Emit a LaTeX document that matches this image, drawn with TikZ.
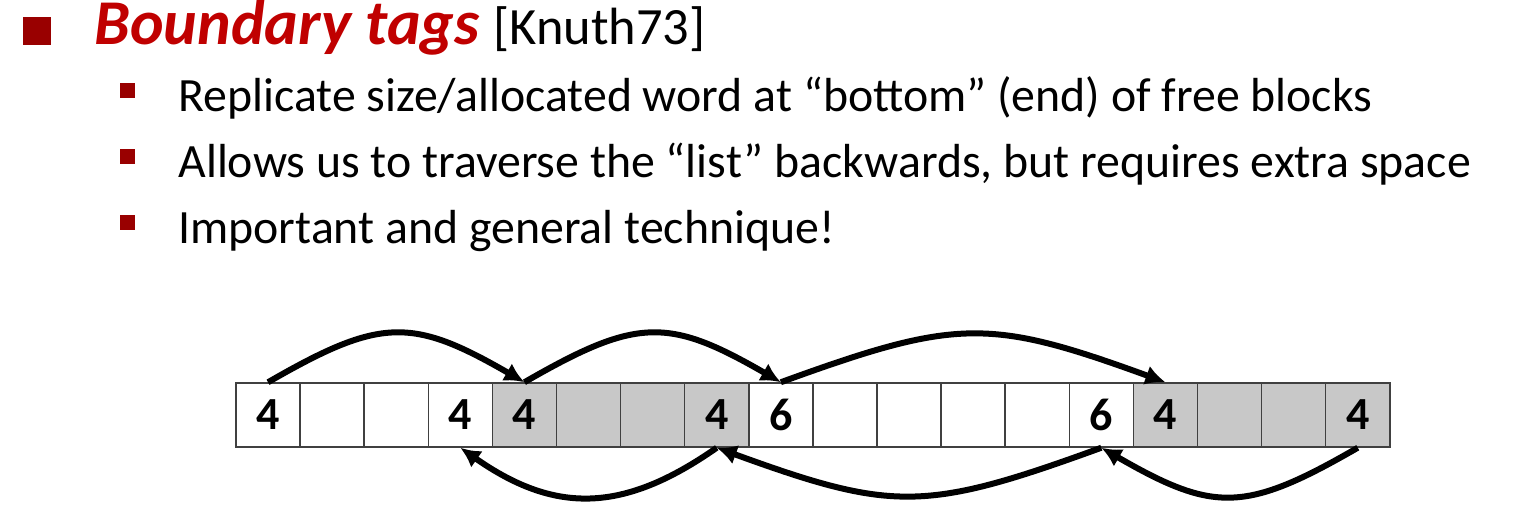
\documentclass[tikz,border=0pt]{standalone}
\usepackage{fontspec}
\setmainfont{Carlito}
\usetikzlibrary{arrows.meta}
\definecolor{tagred}{HTML}{C00000}
\definecolor{bulletred}{HTML}{990000}
\definecolor{usedgray}{HTML}{C8C8C8}
\definecolor{gridline}{HTML}{404040}

\tikzset{
  cellbox/.style={draw=gridline, line width=0.75pt, minimum width=32.05pt,
    minimum height=32pt, inner sep=0pt, font=\fontsize{23}{23}\selectfont\bfseries},
  link/.style={line width=3pt, -{Latex[length=10pt,width=10pt]}},
  textline/.style={anchor=base west, inner sep=0pt, font=\fontsize{23.9}{28}\selectfont}
}

\begin{document}
\begin{tikzpicture}[x=0.5pt, y=0.5pt]
      \useasboundingbox (0,0) rectangle (1522,528);

      % Heading with its bullet
      \fill[bulletred] (23,483) rectangle (51,511);
      \node[anchor=base west, inner sep=0pt] (title) at (94,483)
        {\textcolor{tagred}{\fontsize{31.9}{36}\selectfont\bfseries\itshape Boundary tags}\hspace{7pt}%
         \fontsize{26.2}{30}\selectfont[Knuth73]};

      % Sub bullets
      \foreach \yb in {437,371,305}
        \fill[bulletred] (120,\yb-7.5) rectangle (135,\yb+7.5);
      \node[textline] (line1) at (178,416) {Replicate size/allocated word at “bottom” (end) of free blocks};
      \node[textline] (line2) at (178,350) {Allows us to traverse the “list” backwards, but requires extra space};
      \node[textline] (line3) at (178,284) {Important and general technique!};

      % The heap words
      \foreach \i/\v/\f in {0/4/white,1//white,2//white,3/4/white,4/4/usedgray,5//usedgray,
          6//usedgray,7/4/usedgray,8/6/white,9//white,10//white,11//white,12//white,
          13/6/white,14/4/usedgray,15//usedgray,16//usedgray,17/4/usedgray}
        \node[cellbox, fill=\f] (c\i) at ({268.05+64.1*\i},113) {\raisebox{-2pt}{\v}};

      % Forward links along the top
      \draw[link] (c0.north) to[out=30, in=150, looseness=1.3] (c4.north);
      \draw[link] (c4.north) to[out=30, in=150, looseness=1.3] (c8.north);
      \draw[link] (c8.north) to[out=20, in=160, looseness=1.25] (c14.north);

      % Backward links along the bottom
      \draw[link] (c17.south) to[out=-150, in=-30, looseness=1.3] (c13.south);
      \draw[link] (c13.south) to[out=-160, in=-20, looseness=1.25] (c7.south);
      \draw[link] (c7.south) to[out=-145, in=-35, looseness=1.15] (c3.south);
\end{tikzpicture}
\end{document}
